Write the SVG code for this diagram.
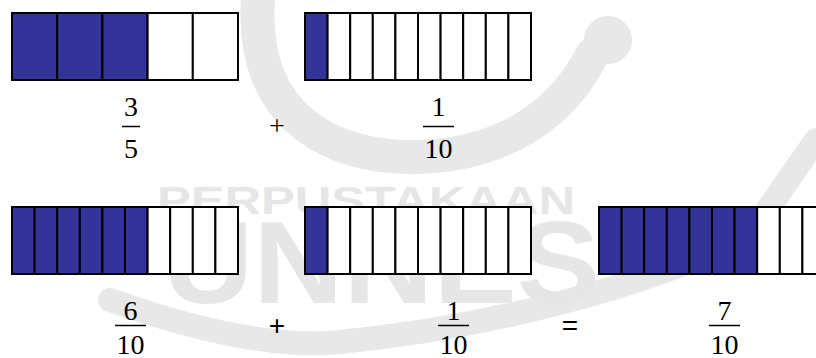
<svg xmlns="http://www.w3.org/2000/svg" width="816" height="358" viewBox="0 0 816 358">
<style>
.bg{fill:#ffffff}
.wm{fill:#e6e6e6;font-family:"Liberation Sans",Arial,sans-serif;font-weight:bold}
.wms{fill:none;stroke:#e8e8e8;stroke-linecap:round}
.on{fill:#333399;stroke:#000;stroke-width:2}
.off{fill:#ffffff;stroke:#000;stroke-width:2}
.num{font-family:"Liberation Serif","Times New Roman",serif;font-size:28px;fill:#000;text-anchor:middle}
.op{font-family:"Liberation Sans",Arial,sans-serif;font-size:28px;fill:#000;text-anchor:middle}
.bar{stroke:#000;stroke-width:1.5}
</style>
<rect class="bg" x="0" y="0" width="816" height="358"/>
<g id="watermark">
<path class="wms" stroke-width="34" d="M 258,0 C 250,115 330,160 420,157 C 500,154 560,118 592,55"/>
<circle cx="608" cy="40" r="24" fill="#e8e8e8"/>
<path class="wms" stroke-width="24" d="M 110,300 C 200,332 280,348 340,342 C 480,328 640,290 750,235 L 816,140" stroke="#ededed"/>
<text class="wm" x="157" y="214" font-size="38" textLength="418" lengthAdjust="spacingAndGlyphs">PERPUSTAKAAN</text>
<text class="wm" x="163" y="303" font-size="116" textLength="437" lengthAdjust="spacingAndGlyphs" fill="#e9e9e9">UNNES</text>
</g>
<g id="bar-3-5">
<rect class="on" x="12" y="13" width="45.2" height="67"/>
<rect class="on" x="57.2" y="13" width="45.2" height="67"/>
<rect class="on" x="102.4" y="13" width="45.2" height="67"/>
<rect class="off" x="147.6" y="13" width="45.2" height="67"/>
<rect class="off" x="192.8" y="13" width="45.2" height="67"/>
</g>
<g id="bar-1-10-top">
<rect class="on" x="305" y="13" width="22.6" height="67"/>
<rect class="off" x="327.6" y="13" width="22.6" height="67"/>
<rect class="off" x="350.2" y="13" width="22.6" height="67"/>
<rect class="off" x="372.8" y="13" width="22.6" height="67"/>
<rect class="off" x="395.4" y="13" width="22.6" height="67"/>
<rect class="off" x="418" y="13" width="22.6" height="67"/>
<rect class="off" x="440.6" y="13" width="22.6" height="67"/>
<rect class="off" x="463.2" y="13" width="22.6" height="67"/>
<rect class="off" x="485.8" y="13" width="22.6" height="67"/>
<rect class="off" x="508.4" y="13" width="22.6" height="67"/>
</g>
<g id="bar-6-10">
<rect class="on" x="12" y="207" width="22.6" height="67"/>
<rect class="on" x="34.6" y="207" width="22.6" height="67"/>
<rect class="on" x="57.2" y="207" width="22.6" height="67"/>
<rect class="on" x="79.8" y="207" width="22.6" height="67"/>
<rect class="on" x="102.4" y="207" width="22.6" height="67"/>
<rect class="on" x="125" y="207" width="22.6" height="67"/>
<rect class="off" x="147.6" y="207" width="22.6" height="67"/>
<rect class="off" x="170.2" y="207" width="22.6" height="67"/>
<rect class="off" x="192.8" y="207" width="22.6" height="67"/>
<rect class="off" x="215.4" y="207" width="22.6" height="67"/>
</g>
<g id="bar-1-10-bottom">
<rect class="on" x="305" y="207" width="22.6" height="67"/>
<rect class="off" x="327.6" y="207" width="22.6" height="67"/>
<rect class="off" x="350.2" y="207" width="22.6" height="67"/>
<rect class="off" x="372.8" y="207" width="22.6" height="67"/>
<rect class="off" x="395.4" y="207" width="22.6" height="67"/>
<rect class="off" x="418" y="207" width="22.6" height="67"/>
<rect class="off" x="440.6" y="207" width="22.6" height="67"/>
<rect class="off" x="463.2" y="207" width="22.6" height="67"/>
<rect class="off" x="485.8" y="207" width="22.6" height="67"/>
<rect class="off" x="508.4" y="207" width="22.6" height="67"/>
</g>
<g id="bar-7-10">
<rect class="on" x="599" y="207" width="22.6" height="67"/>
<rect class="on" x="621.6" y="207" width="22.6" height="67"/>
<rect class="on" x="644.2" y="207" width="22.6" height="67"/>
<rect class="on" x="666.8" y="207" width="22.6" height="67"/>
<rect class="on" x="689.4" y="207" width="22.6" height="67"/>
<rect class="on" x="712" y="207" width="22.6" height="67"/>
<rect class="on" x="734.6" y="207" width="22.6" height="67"/>
<rect class="off" x="757.2" y="207" width="22.6" height="67"/>
<rect class="off" x="779.8" y="207" width="22.6" height="67"/>
<rect class="off" x="802.4" y="207" width="22.6" height="67"/>
</g>
<g id="frac-3-5">
<text class="num" x="131" y="116">3</text>
<line class="bar" x1="122" y1="126.5" x2="140" y2="126.5"/>
<text class="num" x="131" y="158">5</text>
</g>
<g id="plus-top">
<text class="num" x="277" y="135" font-size="30">+</text>
</g>
<g id="frac-1-10-top">
<text class="num" x="438.5" y="116">1</text>
<line class="bar" x1="423" y1="126.5" x2="454" y2="126.5"/>
<text class="num" x="438.5" y="158">10</text>
</g>
<g id="frac-6-10">
<text class="num" x="130.5" y="320">6</text>
<line class="bar" x1="115" y1="325.5" x2="146" y2="325.5"/>
<text class="num" x="130.5" y="354">10</text>
</g>
<g id="plus-bottom">
<text class="op" x="277" y="335">+</text>
</g>
<g id="frac-1-10-bottom">
<text class="num" x="453.5" y="320">1</text>
<line class="bar" x1="438" y1="325.5" x2="469" y2="325.5"/>
<text class="num" x="453.5" y="354">10</text>
</g>
<g id="equals">
<text class="op" x="570" y="335">=</text>
</g>
<g id="frac-7-10">
<text class="num" x="724.5" y="320">7</text>
<line class="bar" x1="709" y1="325.5" x2="740" y2="325.5"/>
<text class="num" x="724.5" y="354">10</text>
</g>
<g id="connectors"></g>
</svg>
